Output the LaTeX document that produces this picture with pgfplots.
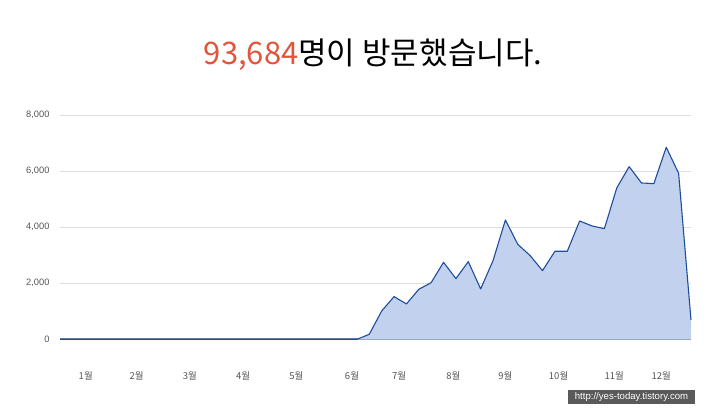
\documentclass[border=0pt]{standalone}
\usepackage{fontspec}
\setmainfont{Liberation Sans}
\newfontfamily\kr{Noto Sans CJK KR}
\usepackage{pgfplots}
\pgfplotsset{compat=1.18}
\definecolor{areafill}{HTML}{C2D1EE}
\definecolor{lineblue}{HTML}{1E4D9C}
\definecolor{titlered}{HTML}{E2553A}
\definecolor{gridgray}{HTML}{DDDDDD}
\definecolor{basegray}{HTML}{8A939C}
\definecolor{labelgray}{HTML}{555555}
\definecolor{markgray}{HTML}{5A5A5A}

% weekly visitors, week index 0..51
\pgfplotstableread{
w v
0 0
1 0
2 0
3 0
4 0
5 0
6 0
7 0
8 0
9 0
10 0
11 0
12 0
13 0
14 0
15 0
16 0
17 0
18 0
19 0
20 0
21 0
22 0
23 0
24 0
25 179
26 1012
27 1524
28 1262
29 1786
30 2024
31 2750
32 2167
33 2774
34 1798
35 2810
36 4262
37 3393
38 2988
39 2452
40 3143
41 3143
42 4226
43 4048
44 3952
45 5405
46 6167
47 5583
48 5560
49 6857
50 5929
51 690
}\visits

\begin{document}
\begin{tikzpicture}
\path[use as bounding box] (0pt,0pt) rectangle (720pt,415pt);

\node at (373pt,360pt) {\kr\fontsize{31}{36}\selectfont\textcolor{titlered}{93,684}명이 방문했습니다.};

\begin{axis}[
at={(60pt,75.7pt)}, anchor=south west,
width=631pt, height=224pt,
scale only axis,
xmin=0, xmax=51,
ymin=0, ymax=8000,
axis line style={draw=none},
major tick length=0pt,
ytick={0,2000,4000,6000,8000},
scaled y ticks=false,
yticklabel style={/pgf/number format/1000 sep={,}, font=\fontsize{9.3}{11}\selectfont, text=labelgray, xshift=-7pt},
/pgf/number format/assume math mode=true,
ymajorgrids,
grid style={color=gridgray, line width=0.8pt},
xtick={2.08,6.2,10.5,14.8,19.1,23.6,27.4,31.8,36.0,40.3,44.8,48.6},
xticklabels={1월,2월,3월,4월,5월,6월,7월,8월,9월,10월,11월,12월},
xticklabel style={font=\kr\fontsize{9.5}{11}\selectfont, text=labelgray, anchor=center, yshift=-36.7pt},
clip=false,
]
\draw[color=basegray, line width=1.6pt] (axis cs:0,0) -- (axis cs:51,0);
\addplot[draw=none, fill=areafill] table[x=w, y=v] {\visits} \closedcycle;
\addplot[draw=lineblue, line width=1.1pt, line join=round] table[x=w, y=v] {\visits};
\end{axis}

\node[fill=markgray, text=white, inner sep=0pt, minimum width=127pt, minimum height=14pt, font=\fontsize{9.6}{11}\selectfont] at (631.5pt,18pt) {http://yes-today.tistory.com};
\end{tikzpicture}
\end{document}
